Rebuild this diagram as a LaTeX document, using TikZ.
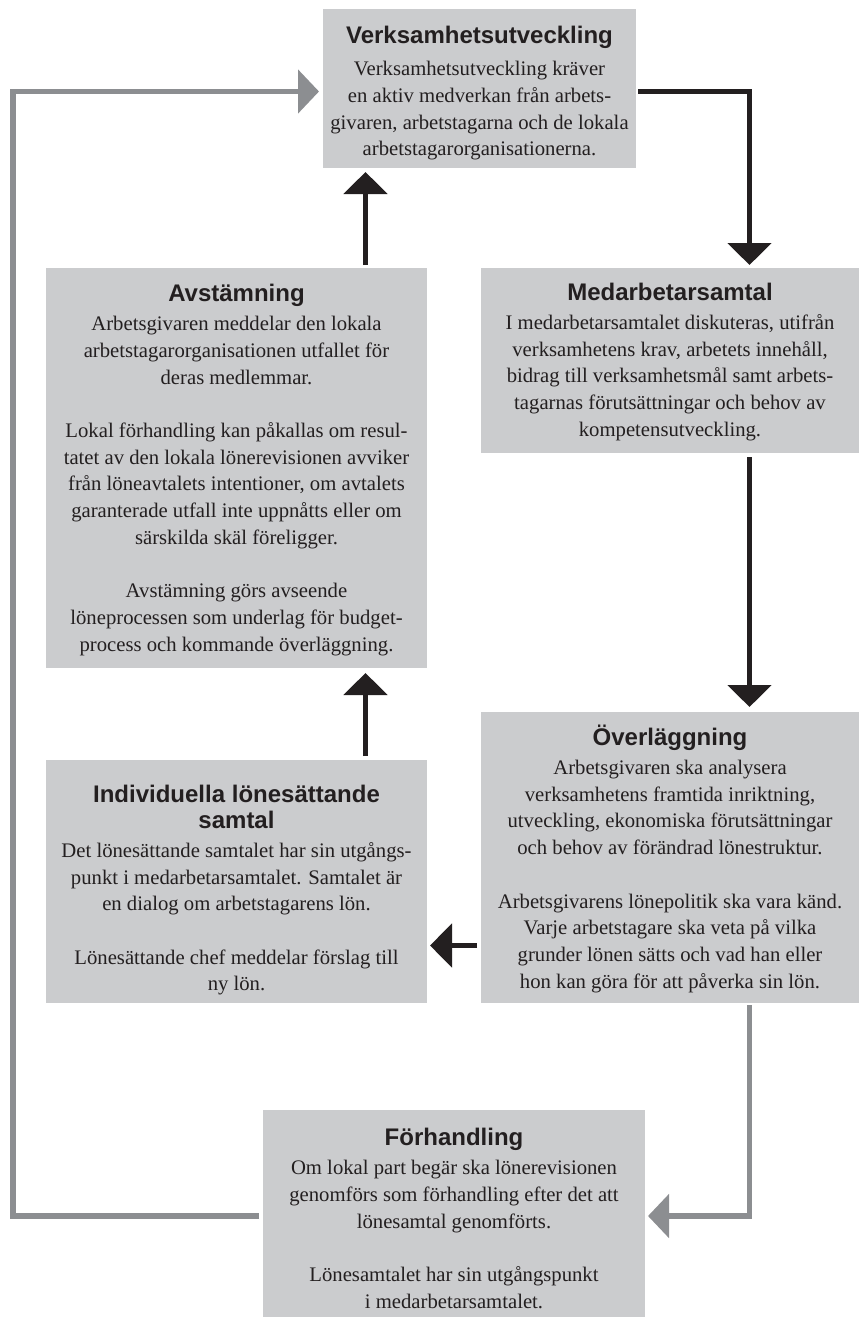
\documentclass[tikz,border=0pt]{standalone}
\usepackage{fontspec}
\setmainfont{Liberation Serif}
\newfontfamily\ttlfamily{Liberation Sans}
\usetikzlibrary{arrows.meta,calc}
\definecolor{ink}{HTML}{231F20}
\definecolor{boxgrey}{HTML}{CBCCCE}
\definecolor{arrgrey}{HTML}{8C8E91}
\newcommand{\boxtitle}[1]{{\ttlfamily\bfseries\fontsize{24}{27}\selectfont #1}}
\begin{document}
\begin{tikzpicture}[x=1pt,y=-1pt,
  panel/.style={fill=boxgrey, draw=none, inner sep=0pt, outer sep=0pt, anchor=north west},
  body/.style={align=center, inner sep=0pt, text=ink, font=\fontsize{20.7}{26.7}\selectfont},
  darkflow/.style={draw=ink, line width=5.8pt, -{Triangle[length=22pt,width=43pt]}},
  greyflow/.style={draw=arrgrey, line width=5.7pt, -{Triangle[length=21pt,width=43pt]}},
]
\useasboundingbox (0,0) rectangle (859,1317);

% panels
\node[panel, minimum width=313pt, minimum height=159pt] (vbox) at (323,9) {};
\node[panel, minimum width=381pt, minimum height=400pt] (abox) at (46,268) {};
\node[panel, minimum width=378pt, minimum height=185pt] (mbox) at (481,268) {};
\node[panel, minimum width=378pt, minimum height=291pt] (obox) at (481,712) {};
\node[panel, minimum width=381pt, minimum height=243pt] (ibox) at (46,760) {};
\node[panel, minimum width=382pt, minimum height=207pt] (fbox) at (263,1110) {};

% texts
\node[body] (vtext) at ($(vbox.center)+(0,4.5)$) {\boxtitle{Verksamhetsutveckling}\\[6pt]
Verksamhetsutveckling kräver\\
en aktiv medverkan från arbets-\\
givaren, arbetstagarna och de lokala\\
arbetstagarorganisationerna.};

\node[body] (atext) at ($(abox.center)+(0,2)$) {\boxtitle{Avstämning}\\[2pt]
Arbetsgivaren meddelar den lokala\\
arbetstagarorganisationen utfallet för\\
deras medlemmar.\\[26.7pt]
Lokal förhandling kan påkallas om resul-\\
tatet av den lokala lönerevisionen avviker\\
från löneavtalets intentioner, om avtalets\\
garanterade utfall inte uppnåtts eller om\\
särskilda skäl föreligger.\\[26.7pt]
Avstämning görs avseende\\
löneprocessen som underlag för budget-\\
process och kommande överläggning.};

\node[body] (mtext) at ($(mbox.center)+(0,1.5)$) {\boxtitle{Medarbetarsamtal}\\[2pt]
I medarbetarsamtalet diskuteras, utifrån\\
verksamhetens krav, arbetets innehåll,\\
bidrag till verksamhetsmål samt arbets-\\
tagarnas förutsättningar och behov av\\
kompetensutveckling.};

\node[body] (otext) at ($(obox.center)+(0,1.5)$) {\boxtitle{Överläggning}\\[2pt]
Arbetsgivaren ska analysera\\
verksamhetens framtida inriktning,\\
utveckling, ekonomiska förutsättningar\\
och behov av förändrad lönestruktur.\\[26.7pt]
Arbetsgivarens lönepolitik ska vara känd.\\
Varje arbetstagare ska veta på vilka\\
grunder lönen sätts och vad han eller\\
hon kan göra för att påverka sin lön.};

\node[body] (itext) at ($(ibox.center)+(0,8.5)$) {\boxtitle{Individuella lönesättande}\\
\boxtitle{samtal}\\[2pt]
Det lönesättande samtalet har sin utgångs-\\
punkt i medarbetarsamtalet. Samtalet är\\
en dialog om arbetstagarens lön.\\[26.7pt]
Lönesättande chef meddelar förslag till\\
ny lön.};

\node[body] (ftext) at ($(fbox.center)+(0,5)$) {\boxtitle{Förhandling}\\[2pt]
Om lokal part begär ska lönerevisionen\\
genomförs som förhandling efter det att\\
lönesamtal genomförts.\\[26.7pt]
Lönesamtalet har sin utgångspunkt\\
i medarbetarsamtalet.};

% connectors
\coordinate (tl) at (13,91.5);
\coordinate (bl) at (13,1216);
\coordinate (tr) at (749.5,91.5);
\coordinate (br) at (749.5,1216);
\coordinate (cx) at (365.5,0);
\coordinate (my) at (0,945.5);

\draw[greyflow] ($(fbox.west |- bl)+(-4,0)$) -- (bl) -- (tl) -- ($(vbox.west |- tl)+(-4,0)$);
\draw[darkflow] ($(vbox.east |- tr)+(2,0)$) -- (tr) -- ($(mbox.north -| tr)+(0,-3)$);
\draw[darkflow] ($(mbox.south -| tr)+(0,4)$) -- ($(obox.north -| tr)+(0,-5)$);
\draw[darkflow] ($(abox.north -| cx)+(0,-3)$) -- ($(vbox.south -| cx)+(0,4)$);
\draw[darkflow] ($(ibox.north -| cx)+(0,-4)$) -- ($(abox.south -| cx)+(0,5)$);
\draw[darkflow] ($(obox.west |- my)+(-4,0)$) -- ($(ibox.east |- my)+(3,0)$);
\draw[greyflow] ($(obox.south -| br)+(0,2)$) -- (br) -- ($(fbox.east |- br)+(3,0)$);
\end{tikzpicture}
\end{document}
